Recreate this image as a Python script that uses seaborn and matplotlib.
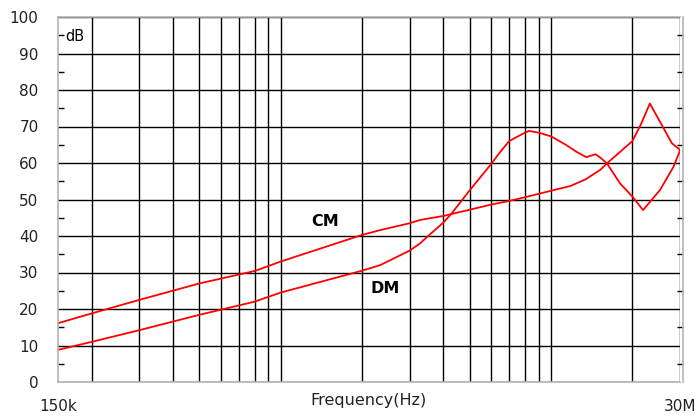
import numpy as np
import pandas as pd
import seaborn as sns
import matplotlib.pyplot as plt
from matplotlib.ticker import FixedLocator, NullFormatter

# curve values (frequency in MHz, level in dB)
cm_mhz = [0.15, 0.2, 0.3, 0.5, 0.8, 1.0, 2.0, 2.33, 3.0, 3.28, 4.0, 5.0, 6.0, 7.0,
          8.0, 10.0, 11.8, 13.4, 15.2, 16.1, 20.0, 21.6, 23.2, 25.7, 28.0, 30.0]
cm_db = [16.1, 18.8, 22.5, 27.0, 30.4, 33.0, 40.3, 41.6, 43.5, 44.4, 45.5, 47.2, 48.6, 49.6,
         50.6, 52.4, 53.7, 55.5, 58.1, 59.9, 66.0, 70.9, 76.3, 70.4, 65.4, 63.6]

dm_mhz = [0.15, 0.2, 0.3, 0.5, 0.8, 1.0, 2.0, 2.33, 3.0, 3.28, 3.5, 4.0, 4.29, 5.0, 6.0,
          6.5, 7.0, 8.0, 8.3, 9.0, 10.0, 11.4, 12.4, 13.5, 14.6, 15.2, 16.1, 18.0,
          20.0, 21.9, 25.3, 28.4, 30.0]
dm_db = [8.8, 11.0, 14.2, 18.4, 22.0, 24.5, 30.5, 32.0, 36.0, 38.0, 39.9, 43.7, 46.2, 52.5, 59.7,
         63.1, 66.0, 68.3, 68.8, 68.3, 67.3, 64.9, 63.1, 61.6, 62.4, 61.5, 59.9, 54.4,
         50.8, 47.1, 52.6, 59.0, 63.4]

x_tick_vals = [150e3, 30e6]
x_tick_labels = ["150k", "30M"]
y_ticks = list(range(0, 101, 10))

sns.set_style("white")
plt.rcParams['font.family'] = ['DejaVu Sans']

fig = plt.figure(figsize=(6.96, 4.16), dpi=100)
ax = fig.add_axes([58/696, 34/416, 622/696, 365/416])

df_cm = pd.DataFrame({"freq": np.array(cm_mhz)*1e6, "dB": cm_db})
df_dm = pd.DataFrame({"freq": np.array(dm_mhz)*1e6, "dB": dm_db})
sns.lineplot(data=df_cm, x="freq", y="dB", ax=ax, color="#ff0000", lw=1.3, estimator=None, sort=False)
sns.lineplot(data=df_dm, x="freq", y="dB", ax=ax, color="#ff0000", lw=1.3, estimator=None, sort=False)

ax.set_xscale("log")
ax.set_xlim(150e3, 30e6)
ax.set_ylim(0, 100)

# vertical grid at every log decade step
grid_f = [m*10**e for e in (5, 6, 7) for m in range(1, 10)]
grid_f = [f for f in grid_f if 150e3 < f <= 30e6]
ax.xaxis.remove_overlapping_locs = False
ax.xaxis.set_major_locator(FixedLocator(x_tick_vals))
ax.set_xticklabels(x_tick_labels)
ax.xaxis.set_minor_locator(FixedLocator(grid_f))
ax.xaxis.set_minor_formatter(NullFormatter())
ax.tick_params(axis="x", which="both", length=0, pad=12, labelsize=11, labelcolor="#222222")
ax.grid(True, which="minor", axis="x", color="black", lw=1.0)
ax.grid(False, which="major", axis="x")

ax.set_yticks(y_ticks)
ax.set_yticks(range(5, 100, 10), minor=True)
ax.grid(True, which="major", axis="y", color="black", lw=1.0)
ax.tick_params(axis="y", which="major", length=0, pad=14, labelsize=11, labelcolor="#222222")
ax.tick_params(axis="y", which="minor", direction="in", length=4, width=1,
               color="black", left=True, right=True)

for s in ax.spines.values():
    s.set_color("#b4b4b4")
    s.set_linewidth(1.2)
ax.spines["right"].set_position(("outward", 2))

ax.set_ylabel("")
ax.set_xlabel("Frequency(Hz)", fontsize=11.5, color="#222222", labelpad=-15)

ax.text(1.46e6, 43.9, "CM", ha="center", va="center", fontweight="bold", fontsize=11.5, color="black")
ax.text(2.43e6, 25.7, "DM", ha="center", va="center", fontweight="bold", fontsize=11.5, color="black")
ax.text(0.0113, 0.946, "dB", transform=ax.transAxes, ha="left", va="center", fontsize=10.5, color="black")

fig.savefig("out.png", dpi=100)
